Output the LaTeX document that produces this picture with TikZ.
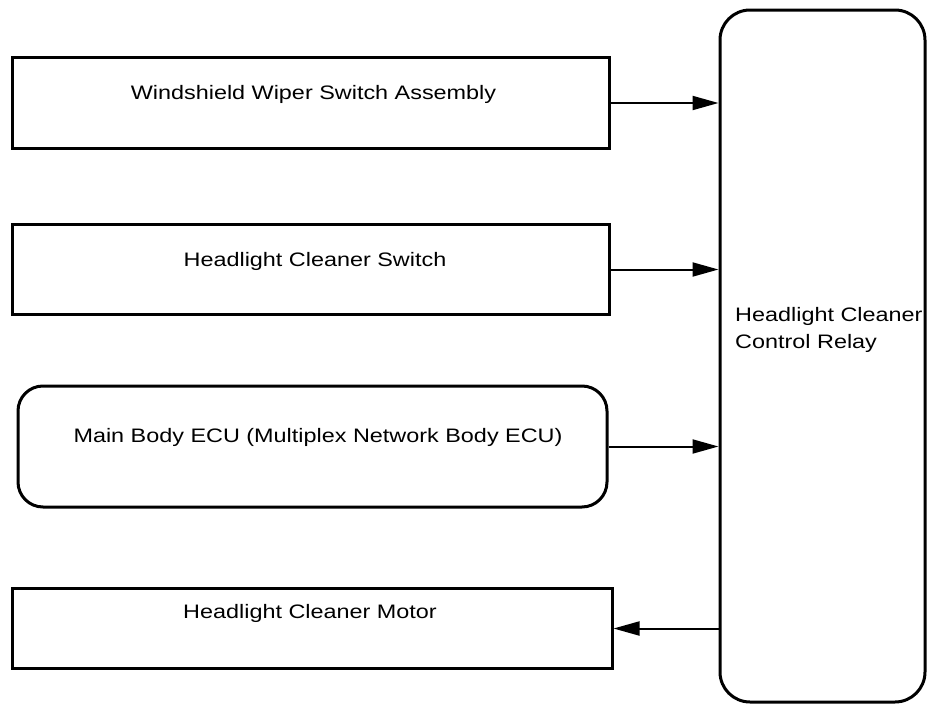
\documentclass[tikz,border=0pt]{standalone}
\usepackage{fontspec}
\setmainfont{Liberation Sans}[FakeStretch=1.2]
\usetikzlibrary{arrows.meta}

\begin{document}
\begin{tikzpicture}[x=1pt,y=-1pt,>={Triangle[length=26pt,width=14pt]},
        box/.style={draw,line width=3pt,rectangle,inner sep=0pt},
        round box/.style={box,rounded corners=25pt},
        box text/.style={anchor=base,inner sep=0pt,font=\fontsize{19.5}{27}\selectfont},
        signal/.style={->,line width=2pt}]
  \useasboundingbox (0,0) rectangle (927,704);

  % inputs and output on the left, relay on the right
  \node[box,minimum width=597pt,minimum height=91pt] (wiper) at (310.5,103) {};
  \node[box,minimum width=597pt,minimum height=90pt] (switch) at (310.5,269.5) {};
  \node[round box,minimum width=589pt,minimum height=121pt] (ecu) at (312.5,446.5) {};
  \node[box,minimum width=600pt,minimum height=80pt] (motor) at (312,628.5) {};
  \node[box,rounded corners=30pt,minimum width=205pt,minimum height=692pt] (relay) at (822.5,356) {};

  \node[box text] (wiper text) at (313.5,99) {Windshield Wiper Switch Assembly};
  \node[box text] (switch text) at (315,266) {Headlight Cleaner Switch};
  \node[box text] (ecu text) at (318,442) {Main Body ECU (Multiplex Network Body ECU)};
  \node[box text] (motor text) at (310,618) {Headlight Cleaner Motor};
  \node[box text,anchor=base west,align=left] (relay text) at (735,348) {Headlight Cleaner\\Control Relay};

  \draw[signal] (wiper) -- (wiper -| relay.west);
  \draw[signal] (switch) -- (switch -| relay.west);
  \draw[signal] (ecu) -- (ecu -| relay.west);
  \draw[signal] (motor -| relay.west) -- (motor);
\end{tikzpicture}
\end{document}
